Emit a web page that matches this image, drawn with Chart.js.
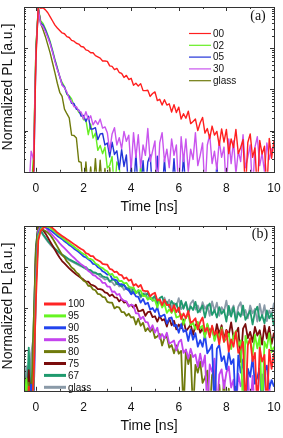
<!DOCTYPE html>
<html>
<head>
<meta charset="utf-8">
<script src="https://cdn.jsdelivr.net/npm/chart.js@4.4.0/dist/chart.umd.min.js"></script>
<style>
body{margin:0;background:#fff}
canvas{display:block}
</style>
</head>
<body>
<canvas id="chartA" width="283" height="219"></canvas>
<canvas id="chartB" width="283" height="219"></canvas>
<script>
// time axis, ns (0.1 ns steps)
const times = [-0.5,-0.4,-0.3,-0.2,-0.1,
 0,0.1,0.2,0.3,0.4,0.5,0.6,0.7,0.8,0.9,
 1,1.1,1.2,1.3,1.4,1.5,1.6,1.7,1.8,1.9,
 2,2.1,2.2,2.3,2.4,2.5,2.6,2.7,2.8,2.9,
 3,3.1,3.2,3.3,3.4,3.5,3.6,3.7,3.8,3.9,
 4,4.1,4.2,4.3,4.4,4.5,4.6,4.7,4.8,4.9,
 5,5.1,5.2,5.3,5.4,5.5,5.6,5.7,5.8,5.9,
 6,6.1,6.2,6.3,6.4,6.5,6.6,6.7,6.8,6.9,
 7,7.1,7.2,7.3,7.4,7.5,7.6,7.7,7.8,7.9,
 8,8.1,8.2,8.3,8.4,8.5,8.6,8.7,8.8,8.9,
 9,9.1,9.2,9.3,9.4,9.5,9.6,9.7,9.8,9.9,
 10];
const xTickVals = [0,2,4,6,8,10];

// values are log10 of normalized PL (axis spans 1e-4 .. 1)
// panel (a)
const namesA = ['00','02','05','30','glass'];
const a00 = [-4.5,-4.5,-4.5,-4.5,-4.2,
 -1.3,0,-0.03,-0.02,-0.07,-0.14,-0.24,-0.34,-0.44,-0.51,
 -0.57,-0.63,-0.65,-0.72,-0.74,-0.81,-0.83,-0.88,-0.90,-0.96,
 -0.97,-1.04,-1.06,-1.11,-1.11,-1.18,-1.21,-1.24,-1.31,-1.31,
 -1.32,-1.43,-1.44,-1.52,-1.49,-1.59,-1.61,-1.71,-1.66,-1.76,
 -1.73,-1.90,-1.85,-1.92,-1.86,-2.03,-2.03,-2.02,-2.17,-2.10,
 -2.06,-2.27,-2.24,-2.38,-2.25,-2.38,-2.35,-2.55,-2.37,-2.56,
 -2.43,-2.72,-2.59,-2.70,-2.53,-2.83,-2.78,-2.72,-3.00,-2.81,
 -2.68,-3.06,-2.95,-3.19,-2.89,-3.11,-3.02,-3.36,-2.96,-3.28,
 -2.97,-3.56,-3.20,-3.41,-2.97,-3.56,-3.41,-3.22,-4.5,-3.29,
 -3.08,-3.65,-3.42,-4.5,-3.24,-3.57,-3.38,-4.5,-3.19,-3.67,
 -3.24];
const a02 = [-4.5,-4.5,-4.5,-4.5,-3.6,
 -1.0,-0.02,-0.33,-0.40,-0.53,-0.68,-0.84,-1.05,-1.27,-1.47,
 -1.69,-1.83,-1.93,-2.12,-2.15,-2.23,-2.39,-2.44,-2.56,-2.57,
 -2.74,-2.74,-3.10,-2.84,-3.18,-3.06,-3.48,-3.36,-3.56,-3.40,
 -3.91,-3.84,-3.63,-4.5,-3.76,-3.89,-4.5,-4.5,-4.5,-4.5,
 -4.5,-4.5,-4.5,-4.5,-3.85,-4.5,-4.5,-4.5,-4.5,-4.5,
 -4.5,-4.5,-4.5,-4.5,-4.5,-4.5,-4.5,-4.5,-4.5,-4.5,
 -4.5,-4.5,-4.5,-4.5,-4.5,-4.5,-4.5,-4.5,-4.5,-4.5,
 -4.5,-4.5,-4.5,-4.5,-4.5,-4.5,-4.5,-4.5,-4.5,-4.5,
 -4.5,-4.5,-4.5,-4.5,-4.5,-4.5,-4.5,-4.5,-4.5,-4.5,
 -4.5,-4.5,-4.5,-4.5,-4.5,-4.5,-4.5,-4.5,-4.5,-4.5,
 -4.5];
const a05 = [-4.5,-4.5,-4.5,-4.5,-4.5,
 -1.1,-0.03,-0.38,-0.44,-0.56,-0.71,-0.87,-1.08,-1.30,-1.50,
 -1.69,-1.88,-1.94,-2.10,-2.18,-2.34,-2.34,-2.48,-2.50,-2.65,
 -2.63,-2.78,-2.65,-2.96,-2.96,-2.93,-3.22,-3.08,-3.07,-3.35,
 -3.30,-3.64,-3.28,-3.58,-3.49,-3.94,-3.46,-3.87,-3.59,-4.5,
 -3.83,-4.5,-3.55,-4.5,-4.5,-3.73,-4.5,-3.76,-3.59,-4.5,
 -4.5,-3.62,-4.5,-4.5,-3.70,-4.5,-4.5,-4.5,-3.68,-4.5,
 -4.5,-4.5,-3.60,-4.5,-4.5,-4.5,-4.5,-4.5,-4.5,-4.5,
 -4.5,-4.5,-4.5,-4.5,-4.5,-4.5,-3.85,-4.5,-4.5,-4.5,
 -4.5,-4.5,-4.5,-4.5,-4.5,-4.5,-4.5,-4.5,-4.5,-4.5,
 -4.5,-4.5,-4.5,-4.5,-4.5,-4.5,-4.5,-4.5,-4.5,-4.5,
 -4.5];
const a30 = [-4.5,-4.5,-4.5,-3.5,-3.7,
 -1.2,-0.05,-0.42,-0.48,-0.60,-0.74,-0.90,-1.10,-1.32,-1.52,
 -1.68,-1.90,-1.96,-2.06,-2.23,-2.30,-2.42,-2.42,-2.52,-2.55,
 -2.72,-2.54,-2.73,-2.64,-2.86,-2.76,-2.85,-2.72,-2.94,-2.91,
 -3.05,-3.50,-3.08,-2.93,-3.35,-3.17,-3.44,-3.02,-3.26,-3.11,
 -3.95,-3.05,-3.65,-3.10,-3.90,-3.35,-3.60,-2.95,-3.75,-3.50,
 -3.25,-4.5,-3.30,-3.05,-3.75,-3.45,-3.90,-3.20,-3.60,-3.35,
 -4.5,-3.15,-3.75,-3.20,-4.0,-3.45,-3.70,-3.05,-3.85,-3.60,
 -3.30,-4.5,-3.35,-3.10,-3.80,-3.50,-3.95,-3.25,-3.65,-3.40,
 -4.5,-3.20,-3.80,-3.25,-4.05,-3.50,-3.75,-3.10,-3.90,-3.65,
 -3.35,-4.5,-3.40,-3.15,-3.85,-3.55,-4.0,-3.30,-3.70,-3.45,
 -3.40];
const aGlass = [-4.5,-4.5,-4.5,-4.5,-3.8,
 -1.0,-0.02,-0.40,-0.55,-0.72,-0.92,-1.12,-1.36,-1.60,-1.85,
 -2.07,-2.17,-2.48,-2.59,-2.69,-3.11,-3.12,-3.18,-3.75,-3.77,
 -4.5,-3.76,-4.5,-3.88,-4.5,-3.68,-4.5,-3.72,-4.5,-3.92,
 -4.5,-3.90,-4.5,-4.5,-4.5,-4.5,-4.5,-4.5,-4.5,-4.5,
 -4.5,-4.5,-4.5,-4.5,-4.5,-4.5,-4.5,-4.5,-4.5,-4.5,
 -4.5,-4.5,-4.5,-4.5,-4.5,-4.5,-4.5,-4.5,-4.5,-4.5,
 -4.5,-4.5,-4.5,-4.5,-4.5,-4.5,-4.5,-4.5,-4.5,-4.5,
 -4.5,-4.5,-4.5,-4.5,-4.5,-4.5,-4.5,-4.5,-4.5,-4.5,
 -4.5,-4.5,-4.5,-4.5,-4.5,-4.5,-4.5,-4.5,-4.5,-4.5,
 -4.5,-4.5,-4.5,-4.5,-4.5,-4.5,-4.5,-4.5,-4.5,-4.5,
 -4.5];

// panel (b)
const namesB = ['100','95','90','85','80','75','67','glass'];
const b100 = [-4.5,-4.5,-3.9,-4.5,-3.8,
 -1.8,-0.35,-0.12,-0.05,-0.02,0,-0.01,-0.05,-0.10,-0.16,
 -0.20,-0.24,-0.28,-0.32,-0.36,-0.40,-0.44,-0.48,-0.52,-0.56,
 -0.59,-0.66,-0.68,-0.73,-0.73,-0.80,-0.83,-0.86,-0.92,-0.93,
 -0.94,-1.04,-1.06,-1.12,-1.11,-1.18,-1.19,-1.28,-1.25,-1.33,
 -1.30,-1.45,-1.41,-1.48,-1.43,-1.57,-1.58,-1.58,-1.71,-1.65,
 -1.62,-1.81,-1.78,-1.92,-1.79,-1.92,-1.91,-2.08,-1.92,-2.09,
 -1.98,-2.26,-2.12,-2.24,-2.06,-2.35,-2.31,-2.24,-2.51,-2.33,
 -2.22,-2.56,-2.47,-2.70,-2.42,-2.63,-2.55,-2.87,-2.51,-2.81,
 -2.54,-3.05,-2.75,-2.93,-2.57,-3.08,-2.96,-2.81,-4.5,-2.90,
 -2.72,-3.28,-3.08,-4.5,-2.95,-3.29,-3.13,-4.5,-3.00,-3.47,
 -3.08];
const b95 = [-4.5,-3.7,-4.5,-4.5,-3.9,
 -1.5,-0.25,-0.08,-0.03,-0.01,-0.02,-0.05,-0.09,-0.14,-0.19,
 -0.24,-0.28,-0.33,-0.37,-0.42,-0.46,-0.50,-0.55,-0.59,-0.64,
 -0.68,-0.71,-0.79,-0.80,-0.83,-0.91,-0.94,-1.00,-1.02,-1.07,
 -1.10,-1.19,-1.16,-1.25,-1.24,-1.34,-1.33,-1.39,-1.38,-1.47,
 -1.50,-1.49,-1.63,-1.56,-1.57,-1.70,-1.69,-1.79,-1.72,-1.81,
 -1.80,-1.98,-1.81,-1.98,-1.89,-2.11,-2.02,-2.11,-2.00,-2.22,
 -2.20,-2.14,-2.39,-2.21,-2.17,-2.41,-2.35,-2.51,-2.33,-2.48,
 -2.42,-2.71,-2.37,-2.64,-2.44,-2.79,-2.59,-2.71,-2.47,-2.81,
 -2.74,-2.61,-2.99,-2.66,-2.55,-2.92,-2.78,-4.5,-2.67,-2.88,
 -2.76,-3.13,-2.64,-2.97,-2.67,-4.5,-2.81,-2.96,-2.60,-3.06,
 -2.93];
const b90 = [-4.5,-4.5,-4.5,-3.85,-4.5,
 -1.4,-0.2,-0.05,-0.01,-0.02,-0.06,-0.10,-0.14,-0.19,-0.24,
 -0.28,-0.32,-0.37,-0.41,-0.46,-0.50,-0.55,-0.59,-0.63,-0.68,
 -0.74,-0.76,-0.81,-0.85,-0.92,-0.93,-1.00,-1.03,-1.10,-1.13,
 -1.18,-1.17,-1.28,-1.30,-1.32,-1.42,-1.41,-1.43,-1.53,-1.56,
 -1.66,-1.60,-1.71,-1.72,-1.86,-1.77,-1.90,-1.86,-2.03,-1.99,
 -2.09,-1.97,-2.20,-2.18,-2.15,-2.37,-2.24,-2.22,-2.43,-2.40,
 -2.59,-2.38,-2.57,-2.52,-2.79,-2.51,-2.76,-2.60,-2.93,-2.77,
 -2.93,-2.63,-3.09,-3.00,-2.88,-4.5,-2.98,-2.89,-3.28,-3.16,
 -3.48,-3.07,-3.35,-3.23,-4.5,-3.14,-3.56,-3.24,-4.5,-3.46,
 -3.66,-3.20,-3.83,-3.67,-3.46,-4.5,-3.55,-3.39,-3.94,-3.74,
 -3.90];
const b85 = [-4.5,-4.5,-4.5,-4.5,-4.5,
 -1.3,-0.12,-0.02,0,-0.04,-0.10,-0.16,-0.22,-0.29,-0.35,
 -0.42,-0.48,-0.54,-0.60,-0.66,-0.72,-0.77,-0.83,-0.88,-0.93,
 -0.97,-1.01,-1.09,-1.13,-1.19,-1.21,-1.27,-1.30,-1.38,-1.38,
 -1.47,-1.47,-1.60,-1.59,-1.67,-1.65,-1.78,-1.81,-1.83,-1.95,
 -1.91,-1.93,-2.12,-2.12,-2.26,-2.20,-2.33,-2.34,-2.52,-2.41,
 -2.59,-2.47,-2.74,-2.62,-2.73,-2.59,-2.85,-2.82,-2.78,-3.02,
 -2.82,-2.76,-3.08,-3.00,-3.22,-2.98,-3.18,-3.12,-3.42,-3.10,
 -3.41,-3.14,-4.5,-3.36,-3.54,-3.22,-4.5,-3.61,-3.48,-3.94,
 -3.56,-3.41,-3.92,-3.73,-4.5,-3.59,-3.89,-3.74,-4.5,-3.60,
 -4.5,-3.64,-4.5,-3.88,-4.5,-3.60,-4.5,-4.5,-3.88,-4.5,
 -4.5];
const b80 = [-4.5,-4.5,-3.8,-4.5,-2.5,
 -0.6,0,-0.05,-0.09,-0.12,-0.16,-0.22,-0.30,-0.40,-0.50,
 -0.60,-0.70,-0.76,-0.86,-0.92,-1.01,-1.05,-1.13,-1.17,-1.26,
 -1.33,-1.36,-1.45,-1.46,-1.54,-1.56,-1.65,-1.66,-1.72,-1.73,
 -1.84,-1.86,-1.86,-2.00,-1.96,-1.98,-2.09,-2.09,-2.18,-2.13,
 -2.22,-2.21,-2.39,-2.25,-2.42,-2.35,-2.55,-2.48,-2.57,-2.48,
 -2.72,-2.68,-2.62,-2.90,-2.72,-2.68,-2.95,-2.89,-3.09,-2.90,
 -3.10,-3.03,-4.5,-3.00,-3.35,-3.13,-4.5,-3.37,-3.56,-3.29,
 -3.81,-3.68,-3.51,-4.5,-3.62,-3.49,-4.5,-3.85,-4.5,-3.75,
 -4.5,-3.95,-4.5,-4.5,-3.90,-4.5,-4.5,-4.5,-4.5,-4.5,
 -4.5,-4.5,-4.5,-4.5,-4.5,-4.5,-4.5,-4.5,-4.5,-4.5,
 -4.5];
const b75 = [-3.6,-4.5,-3.5,-4.5,-3.2,
 -0.7,0,-0.04,-0.10,-0.18,-0.28,-0.38,-0.48,-0.58,-0.68,
 -0.77,-0.85,-0.91,-0.97,-1.03,-1.08,-1.13,-1.18,-1.22,-1.26,
 -1.30,-1.35,-1.35,-1.42,-1.44,-1.47,-1.53,-1.53,-1.55,-1.61,
 -1.63,-1.70,-1.66,-1.73,-1.74,-1.83,-1.77,-1.86,-1.84,-1.95,
 -1.91,-1.98,-1.91,-2.07,-2.06,-2.03,-2.18,-2.09,-2.08,-2.21,
 -2.19,-2.32,-2.18,-2.29,-2.26,-2.44,-2.24,-2.41,-2.30,-2.51,
 -2.39,-2.48,-2.27,-2.55,-2.48,-2.39,-2.64,-2.41,-2.34,-2.59,
 -2.48,-2.67,-2.40,-2.56,-2.47,-2.74,-2.38,-2.63,-2.41,-2.74,
 -2.52,-2.64,-2.34,-2.72,-2.60,-2.47,-3.30,-2.49,-2.38,-2.72,
 -2.57,-2.81,-2.45,-2.66,-2.53,-2.88,-2.41,-2.73,-2.45,-2.86,
 -2.59];
const b67 = [-3.3,-4.5,-2.95,-4.5,-2.5,
 -0.5,0,-0.10,-0.20,-0.28,-0.36,-0.43,-0.49,-0.55,-0.60,
 -0.65,-0.69,-0.73,-0.77,-0.81,-0.84,-0.87,-0.90,-0.93,-0.96,
 -1.01,-1.00,-1.06,-1.07,-1.12,-1.13,-1.17,-1.16,-1.22,-1.24,
 -1.25,-1.35,-1.30,-1.31,-1.41,-1.41,-1.47,-1.43,-1.50,-1.51,
 -1.63,-1.51,-1.62,-1.56,-1.71,-1.64,-1.70,-1.62,-1.77,-1.75,
 -1.70,-1.90,-1.75,-1.71,-1.90,-1.84,-1.97,-1.82,-1.92,-1.88,
 -2.09,-1.81,-2.01,-1.85,-2.11,-1.95,-2.04,-1.84,-2.10,-2.03,
 -1.93,-2.22,-1.96,-1.88,-2.16,-2.04,-2.22,-1.97,-2.13,-2.04,
 -2.32,-1.94,-2.20,-1.97,-2.32,-2.09,-2.20,-1.93,-2.28,-2.17,
 -2.05,-2.39,-2.08,-1.96,-2.30,-2.16,-2.36,-2.05,-2.24,-2.12,
 -2.43];
const bGlass = [-4.5,-3.4,-4.5,-3.1,-2.7,
 -0.5,0,-0.12,-0.22,-0.30,-0.38,-0.45,-0.51,-0.57,-0.62,
 -0.67,-0.71,-0.75,-0.79,-0.83,-0.86,-0.89,-0.92,-0.95,-0.98,
 -0.99,-1.05,-1.07,-1.09,-1.15,-1.15,-1.17,-1.23,-1.25,-1.30,
 -1.28,-1.35,-1.36,-1.44,-1.38,-1.47,-1.44,-1.55,-1.51,-1.57,
 -1.49,-1.64,-1.63,-1.60,-1.74,-1.65,-1.63,-1.76,-1.73,-1.82,
 -1.71,-1.81,-1.77,-1.94,-1.74,-1.90,-1.79,-1.99,-1.87,-1.94,
 -1.75,-2.02,-1.94,-1.85,-2.09,-1.88,-1.80,-2.03,-1.93,-2.09,
 -1.85,-2.01,-1.92,-2.18,-1.83,-2.07,-1.86,-2.18,-1.97,-2.08,
 -1.81,-2.16,-2.06,-1.93,-2.26,-1.96,-1.85,-2.16,-2.04,-2.24,
 -1.93,-2.12,-2.01,-2.32,-1.89,-2.19,-1.92,-2.31,-2.05,-2.17,
 -1.86];

const colorsA = ['#ff1f1f','#66ee22','#2233d8','#c955ee','#6f7a0c'];
const colorsB = ['#ff2525','#66f522','#2244ee','#c444ee','#6f7a0c','#7a0c0c','#1f9a6e','#8a9aa8'];
const orderA = [0,4,3,1,2];
const orderB = [0,1,2,3,4,5,6,7];

const FONT = 'Liberation Sans, Arial, sans-serif';

// frame with inward ticks, y title, legend and panel tag
const decor = {
  id: 'decor',
  afterDatasetsDraw(chart, args, o) {
    const {ctx, chartArea: a, scales: {x, y}} = chart;
    ctx.save();
    ctx.strokeStyle = '#333';
    ctx.lineWidth = 1;
    ctx.beginPath();
    for (let v = 0; v <= 10; v++) {
      const px = Math.round(x.getPixelForValue(v)) + 0.5;
      const len = v % 2 === 0 ? 4 : 2;
      ctx.moveTo(px, a.bottom); ctx.lineTo(px, a.bottom - len);
      ctx.moveTo(px, a.top); ctx.lineTo(px, a.top + len);
    }
    for (let n = -4; n < 0; n++) {
      for (let k = 1; k <= 9; k++) {
        const py = Math.round(y.getPixelForValue(n + Math.log10(k))) + 0.5;
        const len = k === 1 ? 4 : 2;
        ctx.moveTo(a.left, py); ctx.lineTo(a.left + len, py);
        ctx.moveTo(a.right, py); ctx.lineTo(a.right - len, py);
      }
    }
    ctx.stroke();
    ctx.strokeRect(Math.round(a.left) + 0.5, Math.round(a.top) + 0.5,
      Math.round(a.right - a.left), Math.round(a.bottom - a.top));

    // y title
    ctx.save();
    ctx.translate(8.5, 87);
    ctx.rotate(-Math.PI / 2);
    ctx.fillStyle = '#111';
    ctx.font = '14px ' + FONT;
    ctx.textAlign = 'center';
    ctx.textBaseline = 'middle';
    ctx.fillText('Normalized PL [a.u.]', 0, 0);
    ctx.restore();

    // legend
    ctx.font = '10px ' + FONT;
    ctx.textBaseline = 'middle';
    ctx.textAlign = 'left';
    chart.data.datasets.forEach((ds, i) => {
      const yy = o.ly + i * o.dy;
      ctx.strokeStyle = ds.borderColor;
      ctx.lineWidth = o.lw;
      ctx.beginPath();
      ctx.moveTo(o.lx, yy); ctx.lineTo(o.lx + o.len, yy);
      ctx.stroke();
      ctx.fillStyle = '#111';
      ctx.fillText(ds.label, o.lx + o.len + 2, yy + 0.5);
    });

    // panel tag
    ctx.font = '14px Liberation Serif, Times New Roman, serif';
    ctx.textAlign = 'center';
    ctx.fillStyle = '#111';
    ctx.fillText(o.tag, o.tx, o.ty);
    ctx.restore();
  }
};

function makeChart(id, names, series, colors, orders, width, legend) {
  const datasets = names.map((n, i) => ({
    label: n,
    data: series[i],
    borderColor: colors[i],
    borderWidth: width,
    pointRadius: 0,
    borderJoinStyle: 'round',
    order: orders[i]
  }));
  return new Chart(document.getElementById(id), {
    type: 'line',
    data: {labels: times, datasets: datasets},
    options: {
      responsive: false,
      animation: false,
      layout: {padding: {left: 24, right: 9, top: 7, bottom: 3}},
      scales: {
        x: {
          type: 'linear', min: -0.5, max: 10,
          afterBuildTicks: s => { s.ticks = xTickVals.map(v => ({value: v})); },
          grid: {display: false},
          border: {display: false},
          ticks: {color: '#111', font: {family: FONT, size: 12}, padding: 2, maxRotation: 0, autoSkip: false},
          title: {display: true, text: 'Time [ns]', color: '#111', font: {family: FONT, size: 14}, padding: {top: 1, bottom: 0}}
        },
        y: {type: 'linear', min: -4, max: 0, display: false}
      },
      plugins: {
        legend: {display: false},
        tooltip: {enabled: false},
        decor: legend
      }
    },
    plugins: [decor]
  });
}

makeChart('chartA', namesA, [a00, a02, a05, a30, aGlass], colorsA, orderA, 1.4,
  {lx: 189, ly: 33.5, dy: 11.8, len: 22, lw: 1.2, tag: '(a)', tx: 258, ty: 16});
makeChart('chartB', namesB, [b100, b95, b90, b85, b80, b75, b67, bGlass], colorsB, orderB, 1.8,
  {lx: 44, ly: 85, dy: 11.9, len: 22, lw: 3, tag: '(b)', tx: 260, ty: 15});
</script>
</body>
</html>
